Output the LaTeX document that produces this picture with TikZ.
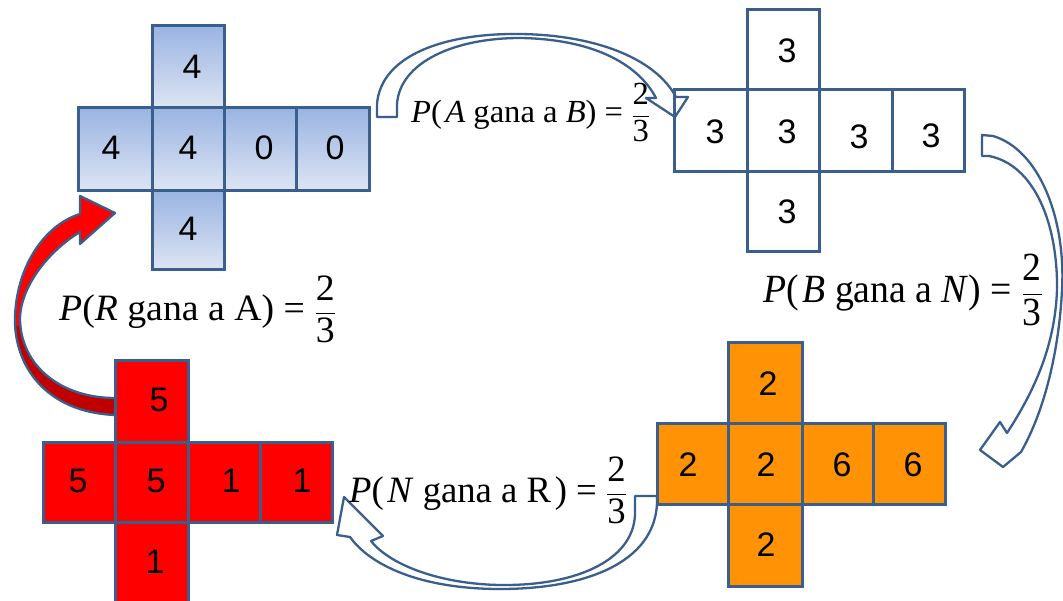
\documentclass[tikz,border=0pt]{standalone}
\usepackage{fontspec}
\usepackage{graphicx}
\setmainfont{Liberation Serif}
\newfontfamily\digitfont{Liberation Sans}
\definecolor{bord}{RGB}{58,95,140}
\definecolor{blueT}{RGB}{154,180,226}
\definecolor{blueB}{RGB}{221,229,243}
\definecolor{orangeF}{RGB}{255,147,5}
\definecolor{redF}{RGB}{255,0,0}
\definecolor{darkredF}{RGB}{192,0,0}
\newcommand\dcell[6]{\node[#1, minimum width={#4-#3}, minimum height={#6-#5}] (#2) at ({(#3+#4)/2},{(#5+#6)/2}) {};}
\newcommand\lab[3]{\resizebox*{#1}{#2}{\fontsize{30}{36}\selectfont #3\ =\ $\displaystyle\frac{\mbox{2}}{\mbox{3}}$}}
\begin{document}
\begin{tikzpicture}[x=1pt,y=-1pt,
  cellbase/.style={rectangle, draw=bord, line width=3pt, inner sep=0pt},
  cA/.style={cellbase, top color=blueT, bottom color=blueB},
  cB/.style={cellbase, fill=white},
  cN/.style={cellbase, fill=orangeF},
  cR/.style={cellbase, fill=redF},
  dig/.style={font={\digitfont\fontsize{34}{40}\selectfont}, inner sep=0pt, text=black},
  arr/.style={draw=bord, line width=2.3pt, line join=round},
  labn/.style={anchor=base west, inner sep=0pt, text=black}]
\useasboundingbox (0,0) rectangle (1063,601);
\fill[white] (0,0) rectangle (1063,601);

% red curved arrow R -> A
\begin{scope}
\clip (115,398) -- (115,415) .. controls (45,412) and (14,365) .. (15,318) .. controls (16,270) and (42,226) .. (80,214) -- (80,196) -- (115,213) -- (80,244) -- (80,232) .. controls (50,250) and (21,285) .. (20,318) .. controls (20,365) and (60,398) .. (115,398) -- cycle;
\fill[redF] (0,180) rectangle (130,326);
\fill[darkredF] (0,326) rectangle (130,430);
\end{scope}
\draw[arr] (115,398) -- (115,415) .. controls (45,412) and (14,365) .. (15,318) .. controls (16,270) and (42,226) .. (80,214) -- (80,196) -- (115,213) -- (80,244) -- (80,232) .. controls (50,250) and (21,285) .. (20,318) .. controls (20,365) and (60,398) .. (115,398) -- cycle;

% Die A (blue)
\dcell{cA}{a1}{152}{224}{26}{108}
\dcell{cA}{a2}{78}{152}{108}{191}
\dcell{cA}{a3}{152}{224}{108}{191}
\dcell{cA}{a4}{224}{296}{108}{191}
\dcell{cA}{a5}{296}{369}{108}{191}
\dcell{cA}{a6}{152}{224}{191}{270}
\node[dig] (da1) at (192,67) {4};
\node[dig] (da2) at (111,148) {4};
\node[dig] (da3) at (188,148) {4};
\node[dig] (da4) at (264,148) {0};
\node[dig] (da5) at (335,148) {0};
\node[dig] (da6) at (188,229) {4};

% Die B (white)
\dcell{cB}{b1}{747}{819}{10}{90}
\dcell{cB}{b2}{674}{747}{90}{172}
\dcell{cB}{b3}{747}{819}{90}{172}
\dcell{cB}{b4}{819}{892}{90}{172}
\dcell{cB}{b5}{892}{964}{90}{172}
\dcell{cB}{b6}{747}{819}{172}{252}
\node[dig] (db1) at (787,51) {3};
\node[dig] (db2) at (715,132) {3};
\node[dig] (db3) at (787,132) {3};
\node[dig] (db4) at (859,137) {3};
\node[dig] (db5) at (931,136) {3};
\node[dig] (db6) at (787,212) {3};

% Die N (orange)
\dcell{cN}{n1}{728}{802}{343}{424}
\dcell{cN}{n2}{657}{728}{424}{504}
\dcell{cN}{n3}{728}{802}{424}{504}
\dcell{cN}{n4}{802}{873}{424}{504}
\dcell{cN}{n5}{873}{945}{424}{504}
\dcell{cN}{n6}{728}{802}{504}{586}
\node[dig] (dn1) at (768,384) {2};
\node[dig] (dn2) at (688,465) {2};
\node[dig] (dn3) at (766,465) {2};
\node[dig] (dn4) at (842,465) {6};
\node[dig] (dn5) at (913,465) {6};
\node[dig] (dn6) at (766,545) {2};

% Die R (red)
\dcell{cR}{r1}{115}{188}{361}{442}
\dcell{cR}{r2}{43}{115}{442}{522}
\dcell{cR}{r3}{115}{188}{442}{522}
\dcell{cR}{r4}{188}{260}{442}{522}
\dcell{cR}{r5}{260}{332}{442}{522}
\dcell{cR}{r6}{115}{188}{522}{612}
\node[dig] (dr1) at (159,400) {5};
\node[dig] (dr2) at (78,481) {5};
\node[dig] (dr3) at (156,481) {5};
\node[dig] (dr4) at (231,481) {1};
\node[dig] (dr5) at (302,481) {1};
\node[dig] (dr6) at (155,562) {1};

% hollow curved arrows
\draw[arr] (377,117) -- (377,104) .. controls (381,55) and (445,33) .. (520,34) .. controls (595,35) and (655,58) .. (676,97) -- (688,97) -- (675,117) -- (646,98) -- (656,98) .. controls (637,62) and (590,39) .. (520,38) .. controls (455,38) and (400,62) .. (397,104) -- (397,117) -- cycle;
\draw[arr] (982,135) -- (993,136) .. controls (1040,150) and (1066,220) .. (1062,290) .. controls (1059,350) and (1045,410) .. (1021,452) -- (1003,467) -- (980,450) -- (1000,422) -- (1007,433) .. controls (1035,390) and (1055,345) .. (1057,290) .. controls (1058,225) and (1035,165) .. (989,156) -- (982,156) -- cycle;
\draw[arr] (635,496) -- (657,496) .. controls (660,560) and (590,589) .. (500,589) .. controls (420,589) and (370,565) .. (350,537) -- (337,535) -- (344,497) -- (383,536) -- (371,541) .. controls (390,565) and (440,584) .. (500,585) .. controls (580,586) and (637,558) .. (635,510) -- cycle;

% labels
\node[labn] (l1) at (411,123) {\lab{239pt}{58pt}{\textit{P}(\kern0.1em\textit{A} gana a \textit{B})}};
\node[labn] (l2) at (763,303) {\lab{280pt}{72pt}{\textit{P}(\kern0.1em\textit{B} gana a \textit{N})}};
\node[labn] (l3) at (59,321) {\lab{277pt}{67pt}{\textit{P}(\textit{R} gana a A)}};
\node[labn] (l4) at (349,502) {\lab{278pt}{67pt}{\textit{P}(\kern0.1em\textit{N} gana a R\kern0.1em)}};
\end{tikzpicture}
\end{document}
